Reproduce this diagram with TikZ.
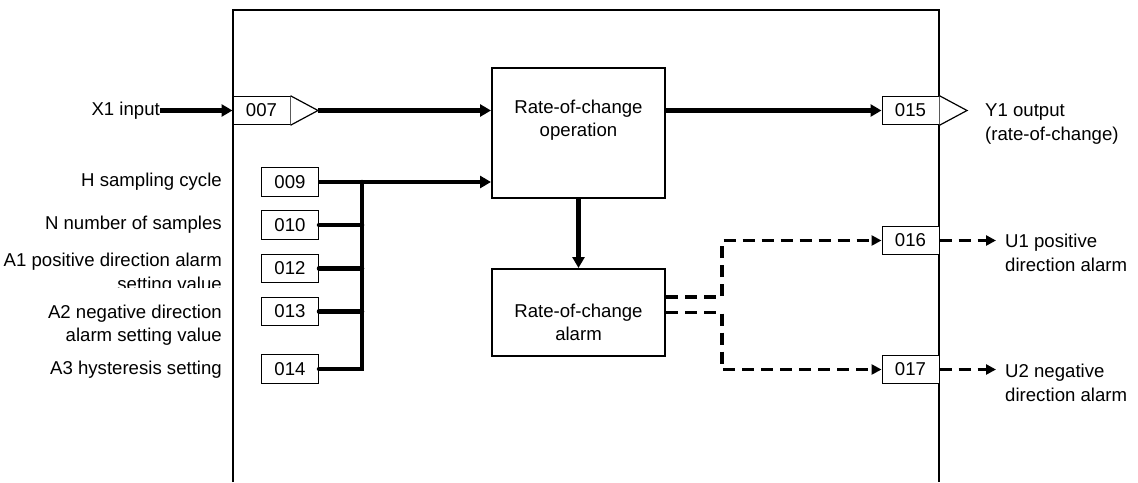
\documentclass[tikz,border=0pt]{standalone}
\usepackage{fontspec}
\setmainfont{Liberation Sans}
\usetikzlibrary{arrows.meta,calc}
\begin{document}
\begin{tikzpicture}[x=1pt,y=-1pt,
  every node/.style={font=\fontsize{18.6}{23.5}\selectfont},
  pbox/.style={draw,line width=1pt,inner sep=0pt,minimum width=57pt,minimum height=28.5pt,fill=white},
  bigbox/.style={draw,line width=2pt,inner sep=0pt},
  lbl/.style={inner sep=0pt},
  thickline/.style={line width=4.5pt,line cap=round},
  thickarrow/.style={line width=4.5pt,-{Triangle[length=11pt,width=12pt]}},
  dasharrow/.style={line width=3.3pt,dash pattern=on 12pt off 7pt,-{Triangle[length=10pt,width=10pt]}},
  tri/.style={line width=1.2pt}]
\useasboundingbox (0,0) rectangle (1138,482);
% outer frame
\draw[line width=2pt] (233,482) -- (233,10) -- (939,10) -- (939,482);
% input 007
\node[pbox] (b007) at (261.5,110.5) {007};
\coordinate (t007) at (318,110.5);
\draw[tri,fill=white] (b007.north east) -- (t007) -- (b007.south east);
\node[lbl,anchor=east] (x1) at (160,110.5) {X1 input};
\draw[thickarrow] (x1.east) -- (b007.west);
% operation block
\node[bigbox,minimum width=173pt,minimum height=130pt] (op) at (578.5,132.5) {};
\node[lbl,align=center] (optxt) at (578.5,120) {Rate-of-change\\operation};
\node[bigbox,minimum width=173pt,minimum height=87pt] (al) at (578.5,312.5) {};
\node[lbl,align=center] (altxt) at (578.5,322.5) {Rate-of-change\\alarm};
\draw[thickarrow] (t007) -- (op.west |- t007);
\draw[thickarrow] (op.south) -- (al.north);
% output 015
\node[pbox] (b015) at (910.5,110.5) {015};
\coordinate (t015) at (967,110.5);
\draw[tri,fill=white] (b015.north east) -- (t015) -- (b015.south east);
\draw[thickarrow] (op.east |- b015) -- (b015.west);
\node[lbl,anchor=west,align=left] (y1) at (985,124) {Y1 output\\(rate-of-change)};
% parameter inputs
\node[pbox] (b009) at (290,182) {009};
\node[pbox] (b010) at (290,225) {010};
\node[pbox] (b012) at (290,268.5) {012};
\node[pbox] (b013) at (290,311.5) {013};
\node[pbox] (b014) at (290,369) {014};
\coordinate (bus) at (362,182);
\draw[thickarrow] (b009.east) -- (op.west |- b009);
\draw[thickline] (b014.east) -| (bus);
\draw[thickline] (b010.east) -- (b010.east -| bus);
\draw[thickline] (b012.east) -- (b012.east -| bus);
\draw[thickline] (b013.east) -- (b013.east -| bus);
\node[lbl,anchor=east] (lh) at (222,182) {H sampling cycle};
\node[lbl,anchor=east] (ln) at (222,225) {N number of samples};
\begin{scope}
\clip (0,245) rectangle (232,287);
\node[lbl,anchor=east,align=right] (la1) at (222,273.5) {A1 positive direction alarm\\setting value};
\end{scope}
\node[lbl,anchor=east,align=right] (la2) at (222,325) {A2 negative direction\\alarm setting value};
\node[lbl,anchor=east] (la3) at (222,370) {A3 hysteresis setting};
% alarm outputs
\node[pbox] (b016) at (910.5,240.5) {016};
\node[pbox] (b017) at (910.5,369.5) {017};
\coordinate (j1) at (722,240.5);
\coordinate (j2) at (722,369.5);
\draw[dasharrow] ($(al.east)+(0,-15.5)$) -| (j1) -- (b016.west);
\draw[dasharrow] (al.east) -| (j2) -- (b017.west);
\coordinate (e016) at (996,240.5);
\coordinate (e017) at (996,369.5);
\draw[dasharrow] (b016.east) -- (e016);
\draw[dasharrow] (b017.east) -- (e017);
\node[lbl,anchor=west,align=left] (u1) at (1005,253) {U1 positive\\direction alarm};
\node[lbl,anchor=west,align=left] (u2) at (1005,383) {U2 negative\\direction alarm};
\end{tikzpicture}
\end{document}
